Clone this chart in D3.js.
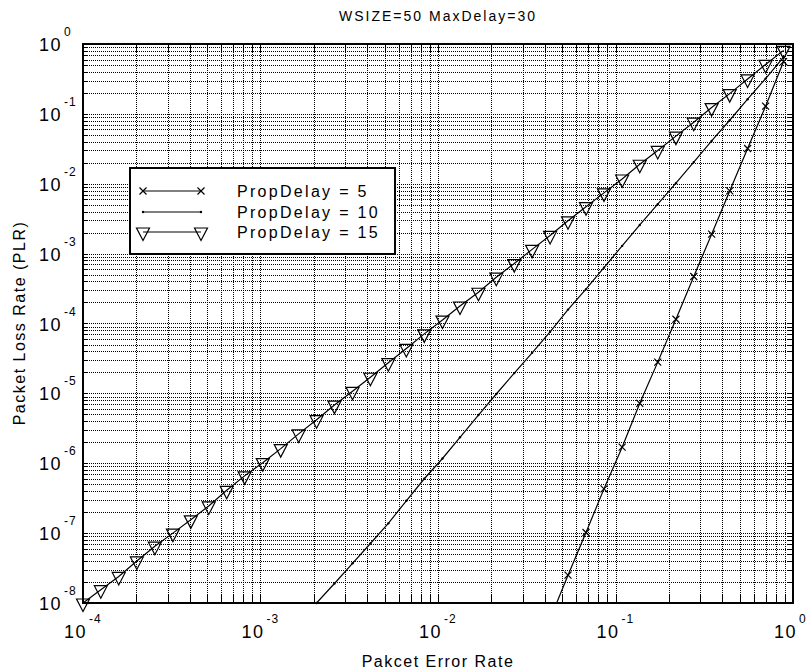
<!DOCTYPE html>
<html>
<head>
<meta charset="utf-8">
<script src="https://cdn.jsdelivr.net/npm/d3@7"></script>
<style>
  body { margin: 0; background: #fff; }
  svg text { font-family: "Liberation Sans", Arial, Helvetica, sans-serif; fill: #000; }
</style>
</head>
<body>
<svg id="chart" width="809" height="672"></svg>
<script>
// packet error rate sample points (shared x values)
const pktErr = [1.0e-4, 1.26e-4, 1.59e-4, 2.01e-4, 2.54e-4, 3.21e-4, 4.05e-4, 5.11e-4, 6.45e-4, 8.14e-4,
  1.03e-3, 1.30e-3, 1.64e-3, 2.07e-3, 2.61e-3, 3.30e-3, 4.16e-3, 5.25e-3, 6.63e-3, 8.37e-3,
  1.06e-2, 1.33e-2, 1.69e-2, 2.13e-2, 2.69e-2, 3.39e-2, 4.28e-2, 5.40e-2, 6.82e-2, 8.61e-2,
  0.109, 0.137, 0.173, 0.219, 0.276, 0.348, 0.440, 0.555, 0.701, 0.885];

// PropDelay = 15 (all points)
const plr15 = [1.0e-8, 1.55e-8, 2.4e-8, 4.0e-8, 6.5e-8, 1.0e-7, 1.55e-7, 2.45e-7, 4.1e-7, 6.6e-7,
  1.02e-6, 1.62e-6, 2.63e-6, 4.2e-6, 6.8e-6, 1.07e-5, 1.7e-5, 2.75e-5, 4.4e-5, 7.1e-5,
  1.12e-4, 1.78e-4, 2.8e-4, 4.6e-4, 7.2e-4, 1.15e-3, 1.82e-3, 2.95e-3, 4.7e-3, 7.4e-3,
  1.17e-2, 1.9e-2, 3.0e-2, 4.8e-2, 7.6e-2, 0.123, 0.195, 0.316, 0.51, 0.81];

// PropDelay = 10 (starts at pktErr[12])
const start10 = 12;
const plr10 = [5.1e-9, 1.0e-8, 1.9e-8, 3.7e-8, 7.1e-8, 1.38e-7, 2.9e-7, 6.0e-7, 1.17e-6, 2.35e-6,
  4.9e-6, 9.8e-6, 1.95e-5, 3.8e-5, 7.6e-5, 1.58e-4, 3.1e-4, 6.3e-4, 1.29e-3, 2.57e-3,
  5.1e-3, 1.02e-2, 2.04e-2, 4.1e-2, 8.1e-2, 0.162, 0.32, 0.65];

// PropDelay = 5 (starts at pktErr[26])
const start5 = 26;
const plr5 = [5.9e-9, 2.5e-8, 1.02e-7, 4.3e-7, 1.7e-6, 7.2e-6, 2.8e-5, 1.15e-4, 4.7e-4, 1.9e-3,
  7.9e-3, 3.2e-2, 0.129, 0.56];

const xExps = [-4, -3, -2, -1, 0];
const yExps = [0, -1, -2, -3, -4, -5, -6, -7, -8];
const legendLabels = ["PropDelay = 5", "PropDelay = 10", "PropDelay = 15"];

const plot = { left: 83, right: 793, top: 44, bottom: 603 };

const svg = d3.select("#chart");

const x = d3.scaleLog().domain([1e-4, 1]).range([plot.left, plot.right]);
const y = d3.scaleLog().domain([1e-8, 1]).range([plot.bottom, plot.top]);

// clip for curves
svg.append("defs").append("clipPath").attr("id", "clip")
  .append("rect")
  .attr("x", plot.left).attr("y", plot.top)
  .attr("width", plot.right - plot.left).attr("height", plot.bottom - plot.top);

// grid
const grid = svg.append("g").attr("stroke", "#000").attr("stroke-width", 1)
  .attr("stroke-dasharray", "1,1").attr("shape-rendering", "crispEdges");
grid.selectAll(".vg").data(x.ticks()).join("line")
  .attr("x1", d => Math.round(x(d)) + 0.5).attr("x2", d => Math.round(x(d)) + 0.5)
  .attr("y1", plot.top).attr("y2", plot.bottom);
grid.selectAll(".hg").data(y.ticks()).join("line")
  .attr("y1", d => Math.round(y(d)) + 0.5).attr("y2", d => Math.round(y(d)) + 0.5)
  .attr("x1", plot.left).attr("x2", plot.right);

// ticks on all four sides, pointing inward
const ticks = svg.append("g").attr("stroke", "#000").attr("stroke-width", 1).attr("shape-rendering", "crispEdges");
x.ticks().forEach(d => {
  const px = Math.round(x(d)) + 0.5;
  ticks.append("line").attr("x1", px).attr("x2", px).attr("y1", plot.bottom).attr("y2", plot.bottom - 8);
  ticks.append("line").attr("x1", px).attr("x2", px).attr("y1", plot.top).attr("y2", plot.top + 8);
});
y.ticks().forEach(d => {
  const py = Math.round(y(d)) + 0.5;
  ticks.append("line").attr("y1", py).attr("y2", py).attr("x1", plot.left).attr("x2", plot.left + 5);
  ticks.append("line").attr("y1", py).attr("y2", py).attr("x1", plot.right).attr("x2", plot.right - 5);
});

// series
const series = [
  { xs: pktErr.slice(start5, start5 + plr5.length), ys: plr5, marker: "x" },
  { xs: pktErr.slice(start10, start10 + plr10.length), ys: plr10, marker: "dot" },
  { xs: pktErr.slice(0, plr15.length), ys: plr15, marker: "tri" }
];

const line = d3.line().x(d => x(d[0])).y(d => y(d[1]));
const markerPath = {
  x: "M-3.5,-3.5L3.5,3.5M-3.5,3.5L3.5,-3.5",
  tri: "M-6.5,-4L6.5,-4L0,8.5Z"
};

function drawMarker(g, type, px, py) {
  if (type === "dot") {
    g.append("circle").attr("cx", px).attr("cy", py).attr("r", 1.2).attr("fill", "#000");
  } else {
    g.append("path").attr("d", markerPath[type])
      .attr("transform", `translate(${px},${py})`)
      .attr("fill", "none").attr("stroke", "#000").attr("stroke-width", 1.2);
  }
}

const curves = svg.append("g");
series.forEach(s => {
  const pts = s.xs.map((v, i) => [v, s.ys[i]]);
  curves.append("path").datum(pts)
    .attr("clip-path", "url(#clip)")
    .attr("d", line)
    .attr("fill", "none").attr("stroke", "#000").attr("stroke-width", 1.2);
  const mg = curves.append("g");
  pts.filter(p => p[1] >= 1e-8 * 0.999 && p[1] <= 1).forEach(p => drawMarker(mg, s.marker, x(p[0]), y(p[1])));
});

// axes box
svg.append("rect")
  .attr("x", plot.left).attr("y", plot.top)
  .attr("width", plot.right - plot.left).attr("height", plot.bottom - plot.top)
  .attr("fill", "none").attr("stroke", "#000").attr("stroke-width", 2);

// tick labels
const yLab = svg.append("g");
yExps.forEach(e => {
  const py = y(Math.pow(10, e));
  yLab.append("text").attr("x", 62).attr("y", py + 7).attr("text-anchor", "end")
    .attr("font-size", 18).attr("letter-spacing", 1.5).text("10");
  yLab.append("text").attr("x", 64).attr("y", py - 8)
    .attr("font-size", 12).attr("letter-spacing", 1).text(e);
});
const xLab = svg.append("g");
xExps.forEach(e => {
  const px = x(Math.pow(10, e));
  xLab.append("text").attr("x", px + 4).attr("y", 638).attr("text-anchor", "end")
    .attr("font-size", 18).attr("letter-spacing", 1.5).text("10");
  xLab.append("text").attr("x", px + 6).attr("y", 623)
    .attr("font-size", 12).attr("letter-spacing", 1).text(e);
});

// titles
svg.append("text").attr("x", 438).attr("y", 21).attr("text-anchor", "middle")
  .attr("font-size", 14).attr("letter-spacing", 2).text("WSIZE=50 MaxDelay=30");
svg.append("text").attr("x", 438).attr("y", 667).attr("text-anchor", "middle")
  .attr("font-size", 16).attr("letter-spacing", 1.5).text("Pakcet Error Rate");
svg.append("text").attr("transform", "translate(25,323) rotate(-90)").attr("text-anchor", "middle")
  .attr("font-size", 16).attr("letter-spacing", 1.5).text("Packet Loss Rate (PLR)");

// legend
const legend = svg.append("g");
legend.append("rect").attr("x", 130).attr("y", 168).attr("width", 265).attr("height", 86)
  .attr("fill", "#fff").attr("stroke", "#000").attr("stroke-width", 2);
const rowY = [191, 212, 232];
series.forEach((s, i) => {
  legend.append("line").attr("x1", 143).attr("x2", 201).attr("y1", rowY[i]).attr("y2", rowY[i])
    .attr("stroke", "#000").attr("stroke-width", 1.2);
  drawMarker(legend, s.marker, 143, rowY[i]);
  drawMarker(legend, s.marker, 201, rowY[i]);
  legend.append("text").attr("x", 237).attr("y", rowY[i] + 6)
    .attr("font-size", 16).attr("letter-spacing", 2.3).text(legendLabels[i]);
});
</script>
</body>
</html>
